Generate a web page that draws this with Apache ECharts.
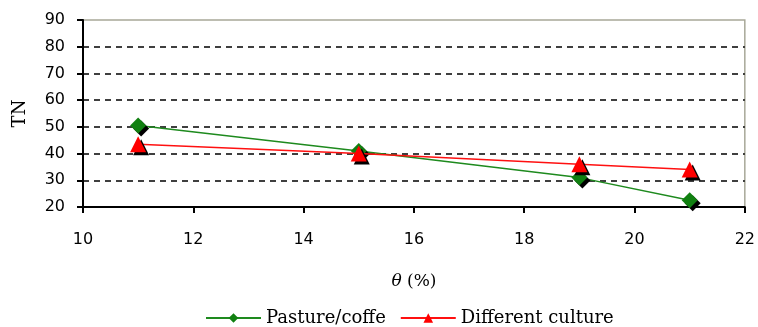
<!DOCTYPE html>
<html><head><meta charset="utf-8">
<script src="https://cdn.jsdelivr.net/npm/echarts@6/dist/echarts.min.js"></script>
<style>html,body{margin:0;padding:0;background:#fff}#c{width:758px;height:327px}</style>
</head><body><div id="c"></div>
<script>
var xValues = [11, 15, 19, 21];
var pasture = [50.5, 41, 31, 22.5];
var different = [43.5, 40, 36, 34];
var seriesNames = ['Pasture/coffe', 'Different culture'];

var chart = echarts.init(document.getElementById('c'));
function pairs(v){ return xValues.map(function(x,i){ return [x, v[i]]; }); }
chart.setOption({
  animation: false,
  backgroundColor: '#fff',
  grid: {left: 83, right: 13, top: 20, bottom: 120, show: true, borderColor: '#a8a898', borderWidth: 1.5},
  legend: {
    top: 304, left: 200, itemWidth: 55, itemHeight: 12, itemGap: 14,
    textStyle: {fontFamily: 'DejaVu Serif', fontSize: 18, color: '#000'},
    data: seriesNames
  },
  xAxis: {
    type: 'value', min: 10, max: 22, interval: 2,
    name: '{i|θ} (%)', nameLocation: 'middle', nameGap: 66,
    nameTextStyle: {fontFamily: 'DejaVu Serif', fontSize: 17, color: '#000', rich: {i: {fontStyle: 'italic', fontFamily: 'DejaVu Serif', fontSize: 17}}},
    axisLine: {lineStyle: {color: '#000', width: 2}},
    axisTick: {length: 6, lineStyle: {color: '#000', width: 2}},
    axisLabel: {margin: 25, fontFamily: 'DejaVu Sans', fontSize: 16, color: '#000'},
    splitLine: {show: false}
  },
  yAxis: {
    type: 'value', min: 20, max: 90, interval: 10,
    name: 'TN', nameLocation: 'middle', nameGap: 54, nameRotate: 90,
    nameTextStyle: {fontFamily: 'DejaVu Serif', fontSize: 18, color: '#000'},
    axisLine: {show: true, lineStyle: {color: '#000', width: 2}},
    axisTick: {show: true, length: 6, lineStyle: {color: '#000', width: 2}},
    axisLabel: {margin: 18, fontFamily: 'DejaVu Sans', fontSize: 16, color: '#000'},
    splitLine: {show: true, lineStyle: {color: ['#000','#000','#000','#000','#000','#000','#000','rgba(0,0,0,0)'], type: [6, 5], width: 1.5}}
  },
  series: [
    {
      name: seriesNames[0], type: 'line', data: pairs(pasture),
      symbol: 'diamond', symbolSize: 16,
      lineStyle: {color: '#1e8a1e', width: 1.5},
      itemStyle: {color: '#118011', shadowColor: '#000', shadowOffsetX: 3, shadowOffsetY: 3, shadowBlur: 0},
      z: 3
    },
    {
      name: seriesNames[1], type: 'line', data: pairs(different),
      symbol: 'triangle', symbolSize: 16,
      lineStyle: {color: '#ff1010', width: 1.5},
      itemStyle: {color: '#ff0000', shadowColor: '#000', shadowOffsetX: 3, shadowOffsetY: 3, shadowBlur: 0},
      z: 4
    }
  ]
});
</script></body></html>
